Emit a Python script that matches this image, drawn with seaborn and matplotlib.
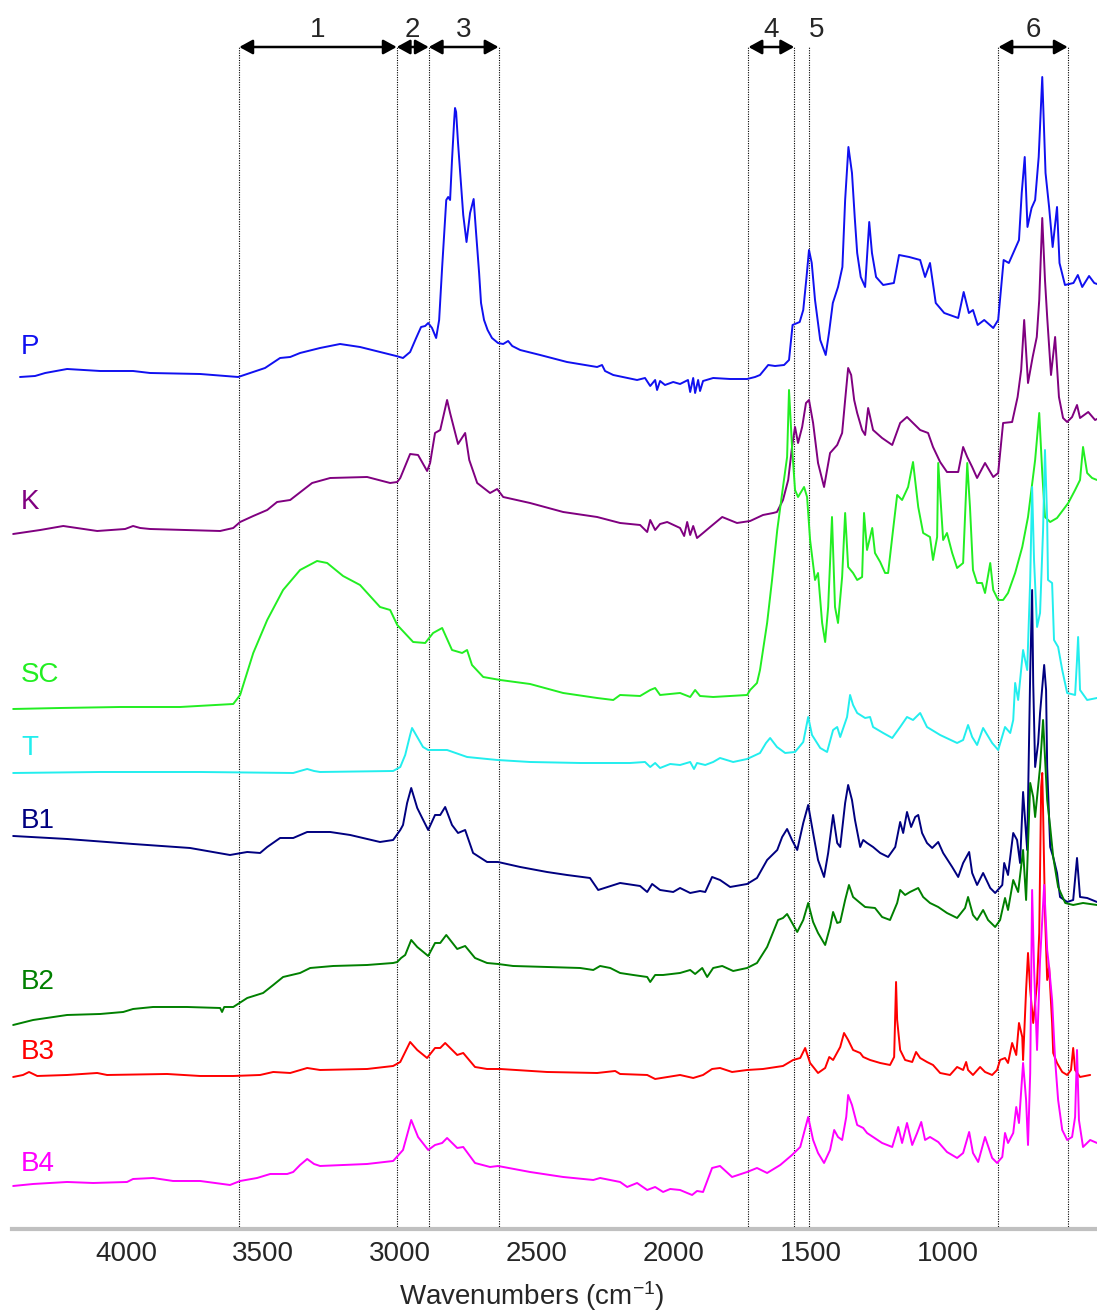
import numpy as np
import pandas as pd
import matplotlib
matplotlib.use("Agg")
import matplotlib.pyplot as plt
import matplotlib.transforms as mtransforms
import seaborn as sns

# ---------------- data (wavenumber cm-1, stacked absorbance a.u.) ----------------
P_wn = [4479, 4424, 4387, 4307, 4186, 4066, 4004, 3821, 3682, 3638, 3584, 3529, 3492, 3456, 3383, 3310, 3237, 3164,
        3105, 3080, 3054, 3032, 3014, 2999, 2988, 2974, 2959, 2948, 2937, 2922, 2915, 2908, 2901, 2893, 2890, 2886,
        2879, 2870, 2860, 2848, 2835, 2822, 2813, 2802, 2795, 2784, 2771, 2755, 2733, 2714, 2696, 2681, 2652, 2579,
        2481, 2371, 2353, 2342, 2312, 2225, 2196, 2177, 2159, 2152, 2141, 2123, 2093, 2068, 2039, 2031, 2020, 2013,
        2002, 1995, 1984, 1947, 1885, 1823, 1794, 1776, 1746, 1721, 1688, 1670, 1657, 1631, 1618, 1606, 1597, 1587,
        1575, 1556, 1536, 1524, 1510, 1491, 1475, 1465, 1453, 1440, 1430, 1421, 1408, 1392, 1383, 1377, 1367, 1352,
        1326, 1287, 1268, 1231, 1191, 1173, 1155, 1134, 1103, 1052, 1032, 1013, 998, 981, 957, 924, 906, 886, 867,
        841, 830, 820, 809, 799, 784, 771, 758, 745, 733, 720, 707, 691, 682, 662, 631, 615, 599, 574, 555, 545]
P_ab = [852, 853, 856, 860, 858, 858, 856, 855, 852, 856, 861, 871, 872, 876, 881, 885, 882, 877,
        873, 871, 877, 891, 902, 903, 906, 901, 891, 909, 962, 1029, 1032, 1029, 1069, 1109, 1121, 1117,
        1086, 1052, 1014, 987, 1016, 1030, 996, 956, 926, 909, 899, 891, 886, 885, 888, 883, 879, 874,
        867, 862, 864, 858, 854, 849, 851, 843, 849, 839, 848, 844, 847, 845, 849, 837, 851, 836,
        849, 838, 848, 851, 850, 850, 852, 854, 864, 863, 864, 869, 904, 907, 919, 952, 979, 966,
        929, 889, 874, 896, 926, 942, 962, 1029, 1082, 1056, 1012, 976, 952, 942, 982, 1007, 976, 952,
        944, 946, 974, 972, 969, 952, 966, 926, 916, 911, 937, 916, 919, 904, 909, 901, 909, 969, 966,
        982, 989, 1036, 1072, 1002, 1021, 1029, 1072, 1152, 1056, 1022, 982, 1022, 966, 944, 946, 954, 942, 953, 946, 945]

K_wn = [4504, 4405, 4321, 4197, 4095, 4066, 4040, 4004, 3748, 3700, 3675, 3627, 3576, 3540, 3492, 3412, 3346, 3211,
        3127, 3101, 3090, 3054, 3025, 2992, 2981, 2963, 2944, 2919, 2908, 2879, 2853, 2838, 2809, 2762, 2736, 2714,
        2616, 2495, 2371, 2287, 2214, 2188, 2177, 2159, 2141, 2115, 2068, 2053, 2042, 2031, 2020, 2006, 1984, 1958,
        1914, 1860, 1812, 1765, 1728, 1714, 1692, 1673, 1659, 1648, 1637, 1622, 1608, 1597, 1582, 1564, 1542, 1520,
        1494, 1476, 1465, 1454, 1443, 1432, 1421, 1403, 1392, 1381, 1363, 1330, 1293, 1264, 1239, 1217, 1191, 1162,
        1144, 1118, 1093, 1052, 1034, 1019, 1001, 983, 954, 924, 906, 888, 855, 835, 822, 811, 797, 780, 765, 756,
        745, 735, 727, 713, 698, 684, 669, 654, 636, 618, 607, 577, 552, 545]
K_ab = [695, 699, 703, 698, 700, 703, 701, 700, 698, 701, 707, 713, 719, 727, 729, 746, 751, 752,
        746, 747, 751, 775, 774, 758, 766, 796, 799, 829, 816, 785, 796, 769, 746, 736, 740, 732,
        726, 717, 712, 706, 704, 697, 709, 699, 705, 707, 701, 693, 707, 694, 703, 691, 696, 702,
        712, 706, 708, 714, 716, 717, 729, 749, 782, 802, 786, 802, 826, 829, 806, 766, 742, 776,
        784, 796, 829, 861, 854, 829, 816, 799, 794, 821, 799, 791, 784, 806, 812, 806, 799, 796,
        782, 767, 757, 757, 782, 772, 762, 751, 766, 752, 756, 806, 807, 832, 859, 909, 846, 872, 892, 929,
        1011, 949, 912, 854, 892, 832, 811, 807, 812, 824, 811, 817, 809, 810]

SC_wn = [4504, 4332, 4113, 3894, 3700, 3675, 3627, 3576, 3518, 3456, 3394, 3357, 3299, 3237, 3164, 3127, 3101, 3043,
         2999, 2970, 2937, 2901, 2864, 2846, 2828, 2787, 2725, 2616, 2495, 2371, 2312, 2287, 2214, 2177, 2159, 2141,
         2068, 2031, 2013, 1995, 1947, 1823, 1812, 1787, 1776, 1750, 1732, 1713, 1695, 1677, 1670, 1659, 1648, 1637,
         1615, 1604, 1593, 1575, 1564, 1549, 1538, 1527, 1513, 1502, 1491, 1476, 1465, 1454, 1436, 1421, 1403, 1396,
         1385, 1366, 1356, 1337, 1319, 1308, 1290, 1275, 1257, 1235, 1217, 1198, 1180, 1155, 1144, 1129, 1125, 1107,
         1093, 1074, 1056, 1034, 1019, 1009, 998, 983, 965, 954, 935, 924, 906, 888, 870, 844, 818, 797, 771, 756,
         745, 735, 716, 691, 669, 650, 625, 607, 596, 581, 563, 545]
SC_ab = [520, 521, 522, 522, 525, 534, 576, 609, 639, 659, 668, 666, 653, 644, 622, 619, 604, 587,
         586, 596, 601, 579, 576, 579, 564, 552, 549, 545, 536, 531, 529, 534, 533, 539, 541, 534,
         536, 532, 539, 533, 532, 534, 539, 546, 559, 606, 649, 699, 736, 772, 839, 782, 739, 732,
         742, 732, 689, 649, 656, 606, 587, 622, 712, 622, 606, 652, 716, 662, 656, 649, 652, 716,
         679, 701, 676, 667, 656, 656, 699, 734, 729, 742, 767, 722, 696, 692, 669, 692, 766, 689,
         696, 676, 661, 666, 766, 722, 659, 646, 646, 636, 666, 639, 629, 629, 636, 656, 682, 712, 769, 816,
         756, 712, 707, 711, 719, 726, 739, 749, 782, 756, 751, 749]

T_wn = [4504, 4186, 3821, 3481, 3456, 3430, 3405, 3383, 3116, 3090, 3072, 3054, 3047, 3028, 3007, 2988, 2919, 2846,
        2736, 2616, 2433, 2250, 2196, 2177, 2159, 2141, 2104, 2068, 2031, 2017, 2006, 1976, 1947, 1922, 1874, 1823,
        1776, 1754, 1739, 1714, 1684, 1648, 1618, 1600, 1586, 1556, 1531, 1509, 1494, 1483, 1458, 1447, 1436, 1421,
        1392, 1374, 1363, 1326, 1293, 1264, 1239, 1217, 1191, 1166, 1118, 1056, 1034, 1016, 1001, 983, 961, 928,
        906, 881, 862, 851, 844, 833, 815, 800, 789, 782, 775, 764, 753, 742, 735, 727, 724, 709, 702, 687, 672,
        654, 625, 618, 614, 610, 607, 581, 545]
T_ab = [456, 457, 457, 456, 458, 460, 458, 457, 458, 462, 474, 494, 501, 492, 482, 479, 479, 472,
        469, 467, 466, 466, 467, 462, 466, 461, 465, 464, 467, 460, 466, 464, 467, 471, 467, 470,
        476, 486, 491, 482, 476, 477, 487, 512, 494, 481, 477, 499, 502, 492, 512, 534, 524, 516,
        511, 512, 502, 496, 491, 502, 512, 509, 516, 502, 494, 486, 489, 504, 492, 484, 501, 486,
        479, 502, 496, 509, 546, 529, 579, 559, 649, 742, 669, 602, 616, 699, 779, 709, 649, 646, 589, 582, 559,
        536, 534, 569, 592, 564, 539, 529, 531]

B1_wn = [4504, 4307, 4066, 3858, 3712, 3649, 3602, 3576, 3529, 3481, 3430, 3346, 3273, 3164, 3116, 3090, 3080, 3065,
         3050, 3028, 3010, 2988, 2963, 2944, 2926, 2901, 2879, 2853, 2824, 2773, 2733, 2652, 2554, 2481, 2397, 2367,
         2287, 2214, 2188, 2170, 2141, 2093, 2068, 2031, 1995, 1976, 1951, 1922, 1885, 1823, 1787, 1750, 1713, 1695,
         1677, 1659, 1640, 1618, 1600, 1582, 1564, 1542, 1527, 1509, 1494, 1483, 1465, 1454, 1440, 1429, 1410, 1399,
         1385, 1363, 1337, 1308, 1282, 1264, 1253, 1239, 1224, 1209, 1198, 1184, 1166, 1147, 1125, 1107, 1074, 1052,
         1034, 1012, 1001, 983, 961, 935, 917, 891, 884, 870, 851, 837, 826, 815, 800, 789, 782, 778, 771, 760,
         753, 738, 731, 727, 716, 705, 691, 680, 654, 632, 618, 607, 581, 545]
B1_ab = [393, 390, 385, 381, 374, 377, 376, 382, 391, 391, 397, 397, 394, 387, 389, 399, 404, 426,
         441, 421, 411, 399, 414, 414, 422, 404, 396, 399, 376, 367, 367, 362, 357, 354, 351, 339,
         346, 343, 337, 345, 339, 337, 341, 336, 338, 337, 352, 349, 342, 345, 351, 369, 379, 392,
         400, 389, 379, 406, 424, 396, 369, 352, 376, 414, 386, 382, 426, 444, 429, 409, 382, 389,
         386, 382, 376, 372, 382, 407, 396, 417, 402, 412, 414, 396, 386, 381, 387, 376, 362, 352,
         366, 377, 356, 344, 356, 341, 336, 344, 366, 354, 396, 389, 366, 437, 379, 556, 639, 546, 462, 486,
         516, 564, 539, 462, 382, 372, 356, 332, 327, 329, 371, 332, 331, 327]

B2_wn = [4504, 4431, 4307, 4186, 4102, 4066, 3993, 3869, 3748, 3741, 3733, 3700, 3649, 3591, 3554, 3518, 3456, 3419,
         3335, 3211, 3116, 3101, 3087, 3072, 3050, 3028, 2988, 2963, 2944, 2922, 2882, 2853, 2817, 2773, 2733, 2678,
         2554, 2433, 2385, 2360, 2323, 2287, 2239, 2188, 2177, 2159, 2130, 2068, 2031, 2013, 1987, 1969, 1947, 1914,
         1874, 1823, 1787, 1750, 1710, 1692, 1677, 1640, 1618, 1600, 1582, 1564, 1538, 1520, 1509, 1494, 1483, 1465,
         1451, 1436, 1410, 1392, 1356, 1330, 1301, 1275, 1264, 1246, 1228, 1198, 1180, 1155, 1125, 1093, 1056, 1027,
         1016, 998, 983, 961, 943, 917, 899, 881, 870, 851, 833, 815, 804, 789, 778, 771, 753, 742, 727, 716,
         705, 687, 661, 632, 596, 545]
B2_ab = [204, 209, 214, 215, 217, 220, 222, 222, 221, 217, 222, 222, 231, 236, 244, 252, 256, 261,
         263, 264, 266, 267, 271, 274, 289, 282, 273, 286, 286, 294, 280, 283, 271, 266, 265, 263,
         262, 261, 259, 263, 261, 256, 254, 252, 247, 254, 254, 256, 259, 255, 261, 252, 261, 263,
         258, 261, 266, 282, 309, 311, 315, 297, 309, 326, 307, 296, 284, 302, 317, 306, 307, 329,
         344, 332, 326, 322, 321, 312, 309, 326, 339, 334, 337, 341, 332, 326, 322, 316, 311, 321,
         332, 314, 309, 319, 309, 302, 309, 331, 319, 349, 337, 379, 329, 446, 432, 412, 462, 509, 429, 402,
         372, 342, 326, 324, 326, 324]

B3_wn = [4504, 4468, 4446, 4416, 4307, 4197, 4161, 3942, 3821, 3700, 3602, 3554, 3492, 3430, 3383, 3211, 3116, 3090,
         3054, 3028, 2992, 2963, 2944, 2926, 2882, 2860, 2817, 2773, 2725, 2554, 2371, 2305, 2287, 2188, 2159, 2068,
         2020, 1984, 1951, 1922, 1878, 1823, 1765, 1692, 1655, 1629, 1611, 1593, 1564, 1538, 1523, 1509, 1483, 1469,
         1454, 1436, 1410, 1399, 1374, 1337, 1301, 1286, 1279, 1275, 1264, 1246, 1220, 1206, 1191, 1166, 1144, 1118,
         1082, 1056, 1034, 1023, 1016, 998, 972, 954, 928, 910, 899, 881, 870, 855, 840, 830, 818, 815, 804, 797,
         789, 778, 764, 756, 749, 745, 742, 735, 727, 720, 709, 705, 691, 672, 654, 640, 632, 625, 607, 570]
B3_ab = [152, 154, 157, 153, 154, 156, 154, 155, 153, 153, 154, 157, 156, 161, 159, 160, 163, 167,
         187, 179, 171, 181, 181, 186, 174, 176, 162, 160, 160, 157, 156, 158, 155, 154, 150, 154,
         151, 154, 160, 161, 157, 159, 160, 163, 169, 171, 181, 166, 156, 161, 172, 169, 182, 196,
         189, 179, 176, 172, 169, 166, 164, 172, 247, 209, 179, 169, 167, 177, 171, 167, 164, 156,
         154, 162, 159, 167, 159, 154, 162, 157, 154, 159, 169, 171, 166, 186, 174, 206, 192, 169, 239, 276,
         239, 206, 246, 296, 442, 456, 419, 316, 249, 262, 206, 176, 166, 157, 154, 159, 181, 159, 152, 154]

B4_wn = [4504, 4431, 4307, 4212, 4088, 4066, 3993, 3920, 3821, 3712, 3675, 3613, 3565, 3503, 3481, 3456, 3430, 3405,
         3383, 3211, 3116, 3080, 3050, 3025, 2988, 2963, 2937, 2919, 2882, 2860, 2817, 2762, 2733, 2616, 2495, 2385,
         2360, 2287, 2261, 2225, 2188, 2159, 2130, 2104, 2068, 2042, 2024, 2006, 1984, 1951, 1922, 1878, 1823, 1787,
         1750, 1702, 1659, 1629, 1600, 1582, 1564, 1542, 1520, 1505, 1491, 1476, 1461, 1454, 1440, 1421, 1399, 1385,
         1363, 1330, 1293, 1271, 1257, 1239, 1220, 1202, 1187, 1173, 1155, 1125, 1093, 1056, 1034, 1012, 998, 979,
         954, 928, 910, 891, 881, 870, 851, 840, 830, 815, 804, 797, 789, 782, 775, 764, 753, 738, 727, 720,
         709, 698, 687, 672, 654, 636, 625, 618, 611, 596, 570, 545]
B4_ab = [43, 45, 47, 46, 47, 50, 51, 48, 48, 44, 48, 51, 55, 55, 57, 64, 70, 65,
         63, 65, 68, 79, 109, 92, 79, 84, 86, 91, 81, 82, 66, 62, 63, 57, 52, 49,
         51, 47, 42, 46, 39, 42, 37, 40, 39, 36, 34, 38, 37, 61, 63, 52, 57, 61,
         56, 64, 74, 82, 112, 89, 76, 66, 79, 99, 92, 89, 112, 134, 124, 104, 101, 96,
         92, 86, 82, 102, 86, 106, 84, 96, 107, 89, 92, 87, 77, 71, 76, 97, 76, 67,
         92, 71, 66, 72, 96, 86, 96, 122, 106, 166, 129, 84, 156, 339, 262, 179, 269, 344, 279, 262,
         229, 169, 129, 99, 89, 92, 112, 179, 109, 82, 89, 86]

samples = ["P", "K", "SC", "T", "B1", "B2", "B3", "B4"]
series_wn = [P_wn, K_wn, SC_wn, T_wn, B1_wn, B2_wn, B3_wn, B4_wn]
series_ab = [P_ab, K_ab, SC_ab, T_ab, B1_ab, B2_ab, B3_ab, B4_ab]

# label anchor level of each spectrum name (a.u.)
label_level = [882, 727, 554, 481, 408, 247, 177, 65]

# band-region boundaries (cm-1) and region labels
region_bounds = [3678, 3103, 2986, 2731, 1818, 1651, 1598, 905, 652]
region_arrows = [(3678, 3103, "1"), (3103, 2986, "2"), (2986, 2731, "3"), (1818, 1651, "4"), (905, 652, "6")]
region_single = [(1598, "5")]

major_ticks = [4000, 3500, 3000, 2500, 2000, 1500, 1000]

# ---------------- styling ----------------
colors = {"P": "#1010f0", "K": "#800080", "SC": "#22ee22", "T": "#22eeee",
          "B1": "#000080", "B2": "#008000", "B3": "#ff0000", "B4": "#ff00ff"}

sns.set_style("white")
plt.rcParams["font.family"] = ["Liberation Sans", "DejaVu Sans"]
plt.rcParams["mathtext.fontset"] = "custom"
plt.rcParams["mathtext.rm"] = "Liberation Sans"
plt.rcParams["mathtext.it"] = "Liberation Sans"

rows = []
for s, wn, ab in zip(samples, series_wn, series_ab):
    for w, a in zip(wn, ab):
        rows.append((s, w, a))
df = pd.DataFrame(rows, columns=["sample", "wavenumber", "absorbance"])

fig = plt.figure(figsize=(10.97, 13.14), dpi=100)
ax = fig.add_axes([0.011, 0.0647, 0.989, 0.9353])

sns.lineplot(data=df, x="wavenumber", y="absorbance", hue="sample", hue_order=samples,
             palette=colors, sort=False, estimator=None, legend=False, lw=1.4, ax=ax)

ax.set_xlim(4508, 545)
ax.set_ylim(0, 1229)

TOP = 1182
ax.vlines(region_bounds, 0, TOP, colors="black", linestyles=(0, (1, 1.2)), lw=0.8, zorder=1)
for a, b, t in region_arrows:
    ax.annotate("", xy=(b, TOP), xytext=(a, TOP),
                arrowprops=dict(arrowstyle="<|-|>,head_length=0.4,head_width=0.22", color="black", lw=1.8,
                                mutation_scale=20, shrinkA=0, shrinkB=0))
    ax.text((a + b) / 2, 1199, t, ha="center", va="center", fontsize=20)
for a, t in region_single:
    ax.text(a - 30, 1199, t, ha="center", va="center", fontsize=20)

for s, lvl in zip(samples, label_level):
    ax.text(4475, lvl, s, color=colors[s], fontsize=20, ha="left", va="center")

# axes styling
for sp in ["top", "right", "left"]:
    ax.spines[sp].set_visible(False)
ax.spines["bottom"].set_color("#c0c0c0")
ax.spines["bottom"].set_linewidth(3)
ax.set_yticks([])
ax.set_ylabel("")
ax.set_xlabel("")
ax.set_xticks(major_ticks)
ax.set_xticks(list(range(4400, 599, -100)), minor=True)
ax.tick_params(axis="x", which="major", direction="inout", length=7, width=1.2, color="#303030",
               labelsize=20, pad=5)
ax.tick_params(axis="x", which="minor", direction="inout", length=5, width=1.0, color="#303030")
ax.set_xticklabels([str(t) for t in major_ticks])
offset = mtransforms.ScaledTranslation(-0.25, 0, fig.dpi_scale_trans)
for lab in ax.get_xticklabels():
    lab.set_transform(lab.get_transform() + offset)

fig.text(532 / 1097, 1 - 1296 / 1314, r"Wavenumbers (cm$^{\mathregular{-1}}$)", ha="center", va="center",
         fontsize=20)

fig.savefig("out.png", dpi=100)
